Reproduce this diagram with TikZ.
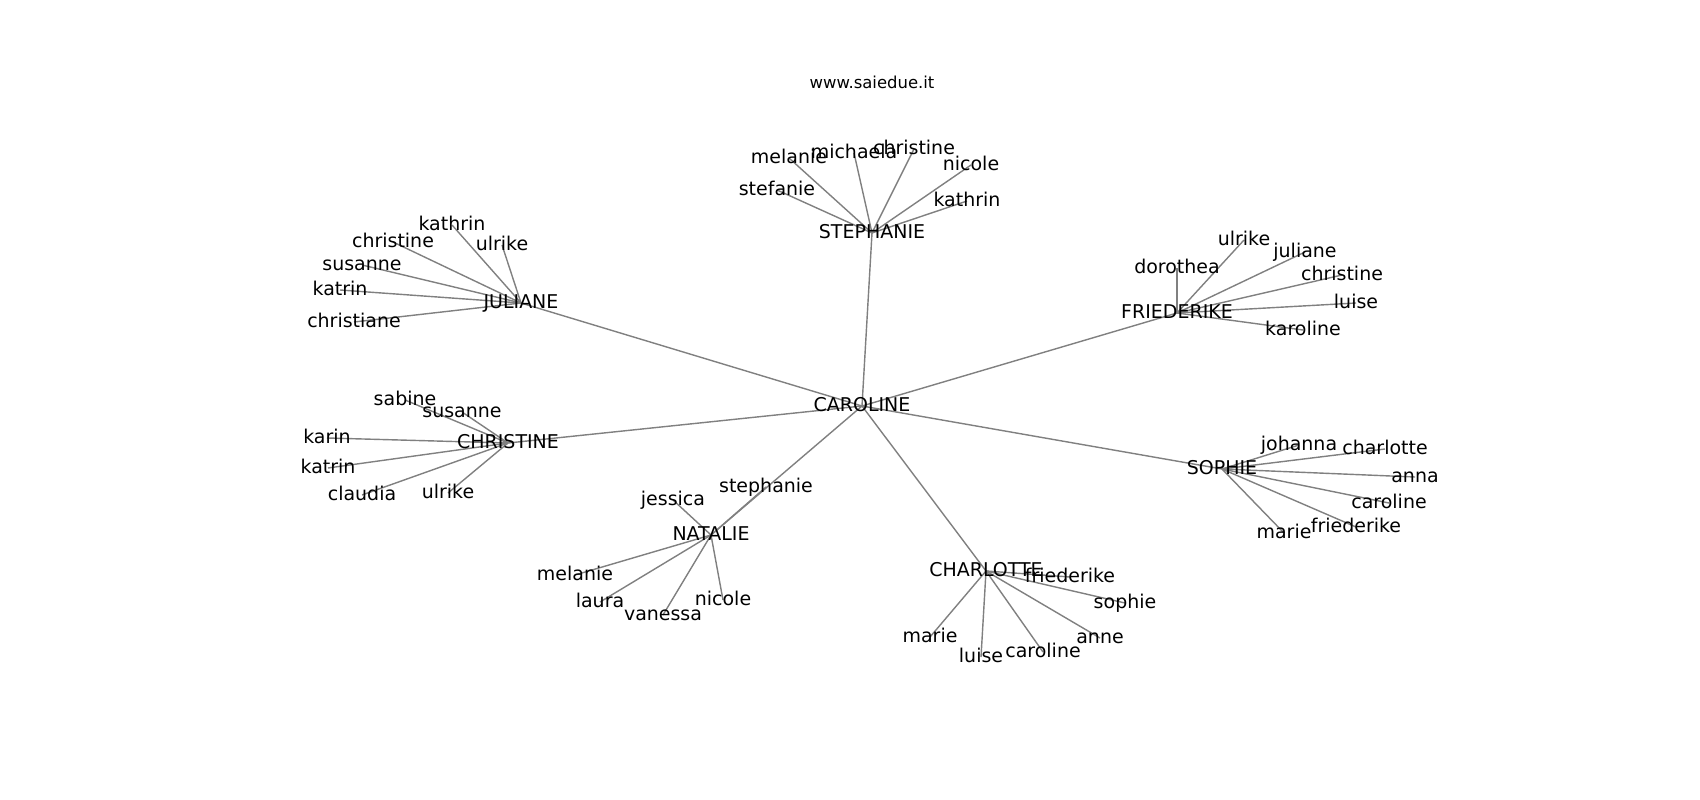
\documentclass[tikz,border=0pt]{standalone}
\usepackage{fontspec}
\setmainfont{DejaVu Sans}
\usepackage{tikz}
\usetikzlibrary{backgrounds}

\begin{document}
\begin{tikzpicture}[
    x=0.025cm, y=-0.025cm,
    person/.style={inner sep=0pt, text height=0.72em, text depth=0pt, anchor=center, font=\fontsize{13.5}{16}\selectfont},
    sitetitle/.style={inner sep=0pt, text height=0.74em, text depth=0pt, font=\fontsize{11.7}{14}\selectfont},
    link/.style={draw=black!50, line width=1pt}
]
\useasboundingbox (0,0) rectangle (1700,800);

\node[sitetitle] (site) at (872,83) {www.saiedue.it};

% Hubs
\node[person] (caroline) at (862,406) {CAROLINE};
\node[person] (stephanie) at (872,233) {STEPHANIE};
\node[person] (juliane) at (521,303) {JULIANE};
\node[person] (friederike) at (1177,313) {FRIEDERIKE};
\node[person] (christine) at (508,443) {CHRISTINE};
\node[person] (sophie) at (1222,469) {SOPHIE};
\node[person] (natalie) at (711,535) {NATALIE};
\node[person] (charlotte) at (986,571) {CHARLOTTE};

% STEPHANIE
\node[person] (stmelanie) at (789,158) {melanie};
\node[person] (stmichaela) at (854,153) {michaela};
\node[person] (stchristine) at (914,149) {christine};
\node[person] (stnicole) at (971,165) {nicole};
\node[person] (ststefanie) at (777,190) {stefanie};
\node[person] (stkathrin) at (967,201) {kathrin};

% JULIANE
\node[person] (jukathrin) at (452,225) {kathrin};
\node[person] (juulrike) at (502,245) {ulrike};
\node[person] (juchristine) at (393,242) {christine};
\node[person] (jususanne) at (362,265) {susanne};
\node[person] (jukatrin) at (340,290) {katrin};
\node[person] (juchristiane) at (354,322) {christiane};

% FRIEDERIKE
\node[person] (frulrike) at (1244,240) {ulrike};
\node[person] (frjuliane) at (1305,252) {juliane};
\node[person] (frdorothea) at (1177,268) {dorothea};
\node[person] (frchristine) at (1342,275) {christine};
\node[person] (frluise) at (1356,303) {luise};
\node[person] (frkaroline) at (1303,330) {karoline};

% CHRISTINE
\node[person] (chsabine) at (405,400) {sabine};
\node[person] (chsusanne) at (462,412) {susanne};
\node[person] (chkarin) at (327,438) {karin};
\node[person] (chkatrin) at (328,468) {katrin};
\node[person] (chclaudia) at (362,495) {claudia};
\node[person] (chulrike) at (448,493) {ulrike};

% SOPHIE
\node[person] (sojohanna) at (1299,445) {johanna};
\node[person] (socharlotte) at (1385,449) {charlotte};
\node[person] (soanna) at (1415,477) {anna};
\node[person] (socaroline) at (1389,503) {caroline};
\node[person] (sofriederike) at (1356,527) {friederike};
\node[person] (somarie) at (1284,533) {marie};

% NATALIE
\node[person] (najessica) at (673,500) {jessica};
\node[person] (nastephanie) at (766,487) {stephanie};
\node[person] (namelanie) at (575,575) {melanie};
\node[person] (nalaura) at (600,602) {laura};
\node[person] (nanicole) at (723,600) {nicole};
\node[person] (navanessa) at (663,615) {vanessa};

% CHARLOTTE
\node[person] (clfriederike) at (1070,577) {friederike};
\node[person] (clsophie) at (1125,603) {sophie};
\node[person] (clmarie) at (930,637) {marie};
\node[person] (clluise) at (981,657) {luise};
\node[person] (clcaroline) at (1043,652) {caroline};
\node[person] (clanne) at (1100,638) {anne};

% Edges
\begin{scope}[on background layer]
\draw[link] (caroline.center) -- (stephanie.center);
\draw[link] (caroline.center) -- (juliane.center);
\draw[link] (caroline.center) -- (friederike.center);
\draw[link] (caroline.center) -- (christine.center);
\draw[link] (caroline.center) -- (sophie.center);
\draw[link] (caroline.center) -- (natalie.center);
\draw[link] (caroline.center) -- (charlotte.center);

\draw[link] (stephanie.center) -- (stmelanie.center);
\draw[link] (stephanie.center) -- (stmichaela.center);
\draw[link] (stephanie.center) -- (stchristine.center);
\draw[link] (stephanie.center) -- (stnicole.center);
\draw[link] (stephanie.center) -- (ststefanie.center);
\draw[link] (stephanie.center) -- (stkathrin.center);

\draw[link] (juliane.center) -- (jukathrin.center);
\draw[link] (juliane.center) -- (juulrike.center);
\draw[link] (juliane.center) -- (juchristine.center);
\draw[link] (juliane.center) -- (jususanne.center);
\draw[link] (juliane.center) -- (jukatrin.center);
\draw[link] (juliane.center) -- (juchristiane.center);

\draw[link] (friederike.center) -- (frulrike.center);
\draw[link] (friederike.center) -- (frjuliane.center);
\draw[link] (friederike.center) -- (frdorothea.center);
\draw[link] (friederike.center) -- (frchristine.center);
\draw[link] (friederike.center) -- (frluise.center);
\draw[link] (friederike.center) -- (frkaroline.center);

\draw[link] (christine.center) -- (chsabine.center);
\draw[link] (christine.center) -- (chsusanne.center);
\draw[link] (christine.center) -- (chkarin.center);
\draw[link] (christine.center) -- (chkatrin.center);
\draw[link] (christine.center) -- (chclaudia.center);
\draw[link] (christine.center) -- (chulrike.center);

\draw[link] (sophie.center) -- (sojohanna.center);
\draw[link] (sophie.center) -- (socharlotte.center);
\draw[link] (sophie.center) -- (soanna.center);
\draw[link] (sophie.center) -- (socaroline.center);
\draw[link] (sophie.center) -- (sofriederike.center);
\draw[link] (sophie.center) -- (somarie.center);

\draw[link] (natalie.center) -- (najessica.center);
\draw[link] (natalie.center) -- (nastephanie.center);
\draw[link] (natalie.center) -- (namelanie.center);
\draw[link] (natalie.center) -- (nalaura.center);
\draw[link] (natalie.center) -- (nanicole.center);
\draw[link] (natalie.center) -- (navanessa.center);

\draw[link] (charlotte.center) -- (clfriederike.center);
\draw[link] (charlotte.center) -- (clsophie.center);
\draw[link] (charlotte.center) -- (clmarie.center);
\draw[link] (charlotte.center) -- (clluise.center);
\draw[link] (charlotte.center) -- (clcaroline.center);
\draw[link] (charlotte.center) -- (clanne.center);
\end{scope}

\end{tikzpicture}
\end{document}
